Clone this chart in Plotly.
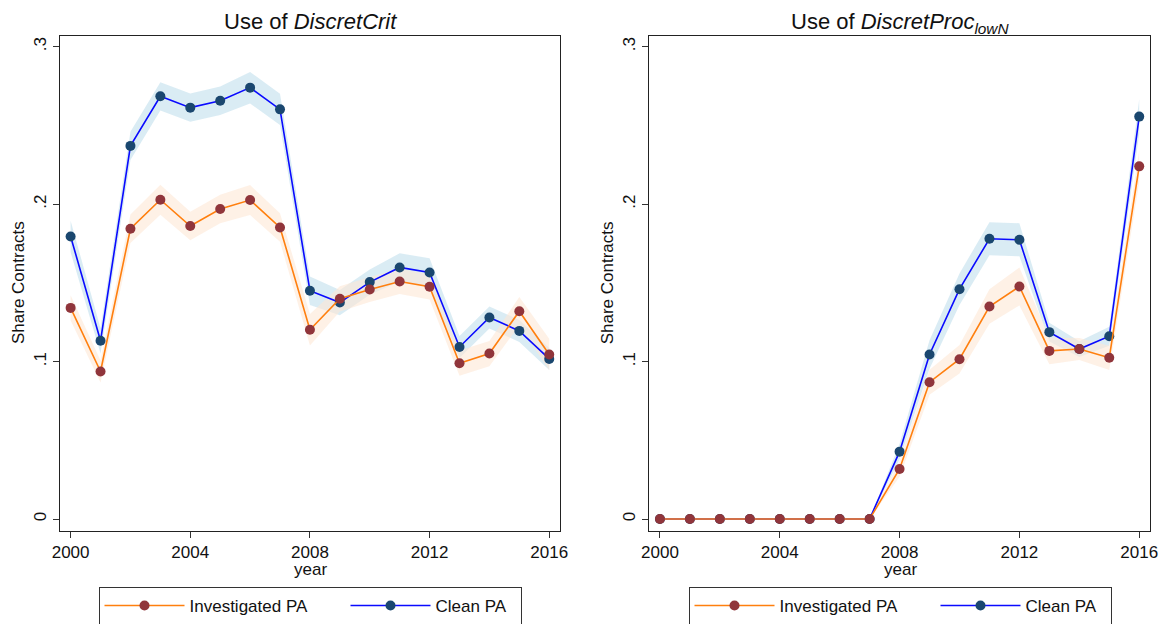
import plotly.graph_objects as go

years = [2000, 2001, 2002, 2003, 2004, 2005, 2006, 2007, 2008,
         2009, 2010, 2011, 2012, 2013, 2014, 2015, 2016]
x_ticks = [2000, 2004, 2008, 2012, 2016]
y_ticks = [0, 0.1, 0.2, 0.3]
y_tick_labels = ["0", ".1", ".2", ".3"]

# Panel 1: DiscretCrit
crit_clean = [0.1795, 0.1132, 0.2370, 0.2685, 0.2613, 0.2657, 0.2740, 0.2602, 0.1450,
              0.1375, 0.1505, 0.1598, 0.1566, 0.1093, 0.1280, 0.1195, 0.1017]
crit_clean_ci = [0.010, 0.008, 0.009, 0.009, 0.009, 0.009, 0.010, 0.010, 0.009,
                 0.008, 0.008, 0.009, 0.009, 0.007, 0.007, 0.007, 0.007]
crit_inv = [0.1341, 0.0937, 0.1844, 0.2028, 0.1861, 0.1969, 0.2026, 0.1852, 0.1202,
            0.1399, 0.1458, 0.1509, 0.1475, 0.0990, 0.1051, 0.1320, 0.1045]
crit_inv_ci = [0.008, 0.007, 0.009, 0.0095, 0.009, 0.009, 0.0095, 0.009, 0.010,
               0.008, 0.008, 0.008, 0.008, 0.008, 0.008, 0.009, 0.010]

# Panel 2: DiscretProc_lowN
proc_clean = [0, 0, 0, 0, 0, 0, 0, 0, 0.0428,
              0.1045, 0.1460, 0.1780, 0.1774, 0.1187, 0.1080, 0.1161, 0.2556]
proc_clean_ci = [0, 0, 0, 0, 0, 0, 0, 0, 0.005,
                 0.009, 0.010, 0.0105, 0.0105, 0.006, 0.005, 0.006, 0.011]
proc_inv = [0, 0, 0, 0, 0, 0, 0, 0, 0.0318,
            0.0869, 0.1015, 0.1350, 0.1477, 0.1068, 0.1080, 0.1024, 0.2240]
proc_inv_ci = [0, 0, 0, 0, 0, 0, 0, 0, 0.005,
               0.008, 0.009, 0.011, 0.012, 0.0085, 0.007, 0.0077, 0.010]

series_names = ["Investigated PA", "Clean PA"]
panel_titles = ["Use of <i>DiscretCrit</i>", "Use of <i>DiscretProc</i><sub><i>lowN</i></sub>"]

# page body has an 8px margin; figure is placed at (8, 8)
OFF = 8
W, H = 1170 - OFF, 624 - OFF
FONT = "Liberation Sans, Arial, Helvetica, sans-serif"
ORANGE_LINE = "#ff7f0e"
MAROON = "#90353b"
BLUE_LINE = "#0a0aff"
NAVY = "#1a476f"
BAND_BLUE = "rgba(206,230,240,0.75)"
BAND_ORANGE = "rgba(253,232,214,0.6)"

fig = go.Figure()

panels = [
    (crit_inv, crit_inv_ci, crit_clean, crit_clean_ci),
    (proc_inv, proc_inv_ci, proc_clean, proc_clean_ci),
]
axes = [("x", "y", "legend"), ("x2", "y2", "legend2")]

for (inv, inv_ci, cln, cln_ci), (xa, ya, lg) in zip(panels, axes):
    for vals, ci, band in [(cln, cln_ci, BAND_BLUE), (inv, inv_ci, BAND_ORANGE)]:
        upper = [v + c for v, c in zip(vals, ci)]
        lower = [v - c for v, c in zip(vals, ci)]
        fig.add_trace(go.Scatter(
            x=years + years[::-1], y=upper + lower[::-1],
            fill="toself", fillcolor=band, line=dict(width=0),
            mode="lines", hoverinfo="skip", showlegend=False,
            xaxis=xa, yaxis=ya))
    fig.add_trace(go.Scatter(
        x=years, y=cln, mode="lines+markers", name=series_names[1],
        line=dict(color=BLUE_LINE, width=1.6),
        marker=dict(color=NAVY, size=10),
        legend=lg, legendrank=2, legendwidth=80, xaxis=xa, yaxis=ya))
    fig.add_trace(go.Scatter(
        x=years, y=inv, mode="lines+markers", name=series_names[0],
        line=dict(color=ORANGE_LINE, width=1.6),
        marker=dict(color=MAROON, size=10),
        legend=lg, legendrank=1, legendwidth=151, xaxis=xa, yaxis=ya))

def px_x(v):
    return (v - OFF) / W

def px_y(v):
    return 1 - (v - OFF) / H

dom_y = [px_y(530.7), px_y(36)]
dom_x1 = [px_x(60), px_x(560)]
dom_x2 = [px_x(649.3), px_x(1150)]

xcommon = dict(range=[1999.645, 2016.36], tickvals=x_ticks, ticks="outside", ticklen=6,
               tickcolor="#333", showline=True, linecolor="#222", linewidth=1.3,
               mirror=True, showgrid=False, zeroline=False, automargin=False,
               tickfont=dict(family=FONT, size=17, color="#111"))
ycommon = dict(range=[-0.0074, 0.3068], tickvals=y_ticks, ticktext=y_tick_labels,
               ticks="outside", ticklen=6, tickcolor="#333", tickangle=-90,
               showline=True, linecolor="#222", linewidth=1.3, mirror=True,
               showgrid=False, zeroline=False, ticklabelstandoff=0, automargin=False,
               tickfont=dict(family=FONT, size=17, color="#111"))

legcommon = dict(orientation="h", xanchor="center", yanchor="top", y=px_y(587),
                 bordercolor="#333", borderwidth=1, bgcolor="white",
                 font=dict(family=FONT, size=17, color="#111"),
                 itemwidth=80, traceorder="normal")

fig.update_layout(
    width=W, height=H, margin=dict(l=0, r=0, t=0, b=0, autoexpand=False),
    paper_bgcolor="white", plot_bgcolor="white",
    font=dict(family=FONT, color="#111"),
    xaxis=dict(domain=dom_x1, anchor="y", **xcommon),
    yaxis=dict(domain=dom_y, anchor="x", **ycommon),
    xaxis2=dict(domain=dom_x2, anchor="y2", **xcommon),
    yaxis2=dict(domain=dom_y, anchor="x2", **ycommon),
    legend=dict(x=px_x(310), **legcommon),
    legend2=dict(x=px_x(900), **legcommon),
    showlegend=True,
)

annotations = []
for title, cx, cx_dom in [(panel_titles[0], 310, 60), (panel_titles[1], 900, 649.3)]:
    annotations.append(dict(text=title, x=px_x(cx), y=px_y(OFF), xref="paper", yref="paper",
                            xanchor="center", yanchor="top", showarrow=False, borderpad=0,
                            font=dict(family=FONT, size=22, color="#111")))
    annotations.append(dict(text="year", x=px_x(cx), y=px_y(569), xref="paper", yref="paper",
                            xanchor="center", yanchor="middle", showarrow=False,
                            font=dict(family=FONT, size=17, color="#111")))
    annotations.append(dict(text="Share Contracts", x=px_x(cx_dom - 42), y=px_y(283),
                            xref="paper", yref="paper", textangle=-90,
                            xanchor="center", yanchor="middle", showarrow=False,
                            font=dict(family=FONT, size=17, color="#111")))
fig.update_layout(annotations=annotations)

fig.write_html("out.html")
